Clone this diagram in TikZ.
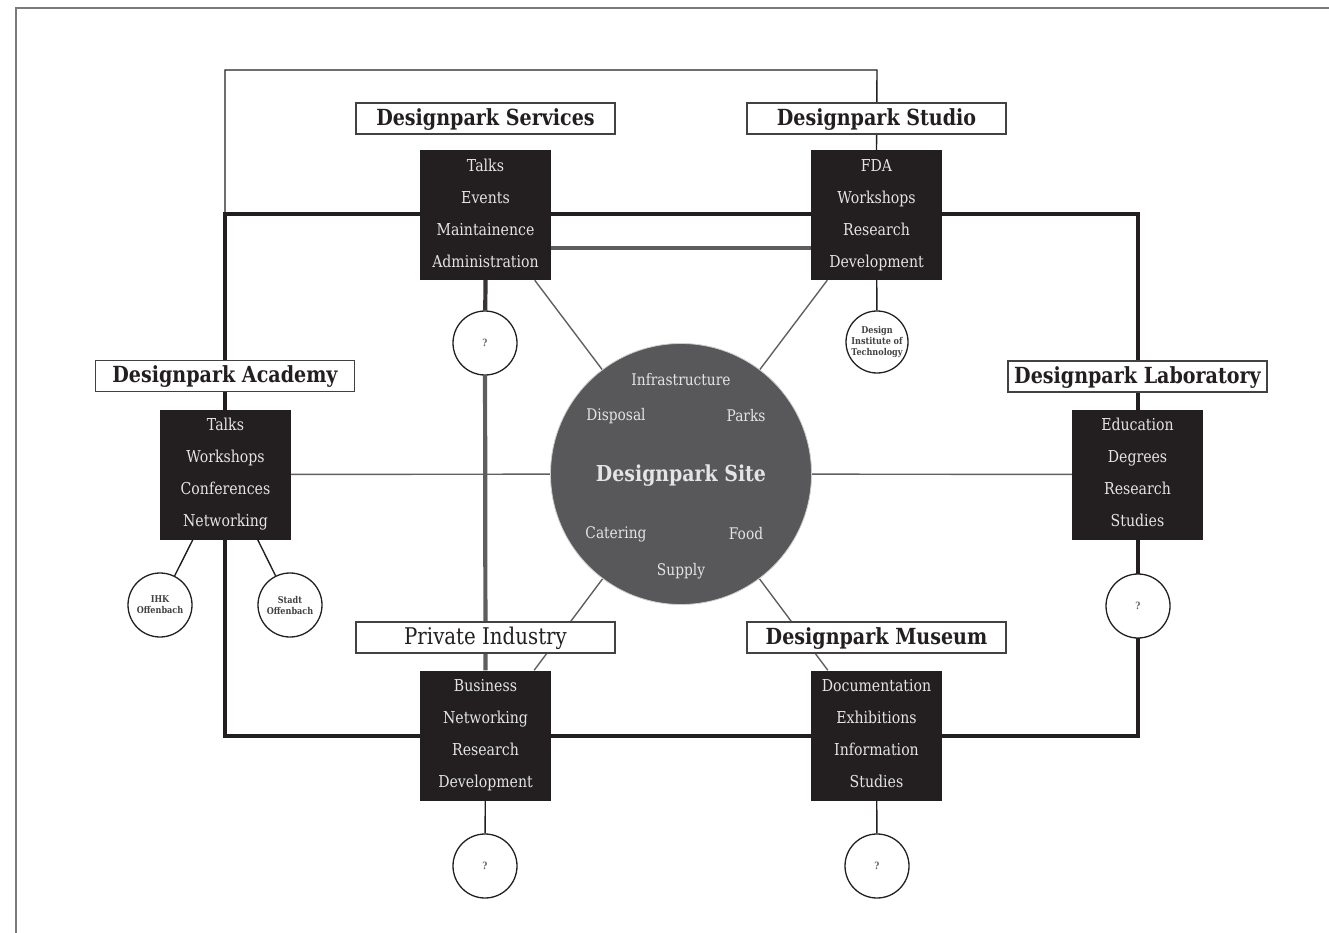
\documentclass[tikz,border=0pt]{standalone}
\usepackage{fontspec}
\setmainfont{DejaVu Serif}[FakeStretch=0.86]
\definecolor{ink}{HTML}{231F20}
\definecolor{sitegray}{HTML}{58585A}
\definecolor{midgray}{HTML}{5E5E5E}
\definecolor{thingray}{HTML}{606060}
\definecolor{txtlight}{HTML}{E4E4E4}
\definecolor{framegray}{HTML}{7A7A7A}
\newcommand{\fourlines}[4]{\vphantom{Ag}#1\\#2\\#3\\#4\vphantom{Ag}}
\pgfdeclarelayer{bg}
\pgfsetlayers{bg,main}
\begin{document}
\begin{tikzpicture}[x=1pt,y=-1pt,
  titlebox/.style={draw=ink!85, line width=1.3pt, fill=white, minimum width=259pt, minimum height=31pt, inner sep=0pt, text=ink, font=\fontsize{22.2}{25}\selectfont\bfseries, text depth=3pt},
  titleplain/.style={titlebox, font=\fontsize{23}{26}\selectfont},
  darkbox/.style={fill=ink, minimum width=131pt, minimum height=130pt, inner sep=0pt, text=txtlight, align=center, font=\fontsize{16.4}{32}\selectfont},
  smallcirc/.style={circle, draw=ink, line width=1.3pt, fill=white, minimum size=64pt, inner sep=0pt, align=center, text=ink!85, font=\fontsize{9.4}{11}\selectfont\bfseries},
  qcirc/.style={smallcirc, text=ink!70, font=\fontsize{10}{11}\selectfont\bfseries},
  sitetext/.style={text=txtlight, font=\fontsize{16}{18}\selectfont},
  thickline/.style={draw=ink, line width=4.2pt},
  thinline/.style={draw=thingray, line width=1.4pt},
  loopline/.style={draw=ink, line width=1.4pt},
  grayline/.style={draw=midgray, line width=4.2pt}
]
\useasboundingbox (0,0) rectangle (1329,933);
\draw[framegray, line width=1.3pt] (16,933) -- (16,8) -- (1329,8);

% central site
\node[circle, fill=sitegray, draw=white!70!sitegray, line width=0.8pt, minimum size=261pt, inner sep=0pt] (site) at (681,474) {};
\node[text=txtlight, font=\fontsize{22}{26}\selectfont\bfseries] (sitename) at (681,475.5) {Designpark Site};
\node[sitetext] (infra) at (681,379.5) {Infrastructure};
\node[sitetext] (disp) at (616,416) {Disposal};
\node[sitetext] (parks) at (746,416) {Parks};
\node[sitetext] (cater) at (616,534) {Catering};
\node[sitetext] (food) at (746,534) {Food};
\node[sitetext] (supply) at (681,571) {Supply};

% titles
\node[titlebox] (svtitle) at (485.5,118.5) {Designpark Services};
\node[titlebox] (sttitle) at (876.5,118.5) {Designpark Studio};
\node[titlebox] (actitle) at (225,376) {Designpark Academy};
\node[titlebox] (labtitle) at (1137.5,376.5) {Designpark Laboratory};
\node[titleplain] (pititle) at (485.5,637.5) {Private Industry};
\node[titlebox] (mutitle) at (876.5,637.5) {Designpark Museum};

% dark boxes
\node[darkbox] (svbox) at (485.5,215) {\fourlines{Talks}{Events}{Maintainence}{Administration}};
\node[darkbox] (stbox) at (876.5,215) {\fourlines{FDA}{Workshops}{Research}{Development}};
\node[darkbox] (acbox) at (225.5,474.5) {\fourlines{Talks}{Workshops}{Conferences}{Networking}};
\node[darkbox] (labbox) at (1137.5,474.5) {\fourlines{Education}{Degrees}{Research}{Studies}};
\node[darkbox] (pibox) at (485.5,735.5) {\fourlines{Business}{Networking}{Research}{Development}};
\node[darkbox] (mubox) at (876.5,735.5) {\fourlines{Documentation}{Exhibitions}{Information}{Studies}};

% small circles
\node[qcirc] (q1) at (485,343) {?};
\node[smallcirc, minimum size=62pt] (dit) at (877,342) {Design\\Institute of\\Technology};
\node[smallcirc] (ihk) at (160,605) {IHK\\Offenbach};
\node[smallcirc] (stadt) at (290,605) {Stadt\\Offenbach};
\node[qcirc] (q2) at (1138,606) {?};
\node[qcirc] (q3) at (485,866) {?};
\node[qcirc] (q4) at (877,866) {?};

% helper coordinates
\coordinate (tl) at (225,214);
\coordinate (tr) at (1138,214);
\coordinate (br) at (1138,736);
\coordinate (bl) at (225,736);
\coordinate (loopl) at (225,70);
\coordinate (loopr) at (877,70);

\begin{pgfonlayer}{bg}
  \draw[thickline] (tl) -- (tr) -- (br) -- (bl) -- cycle;
  \draw[loopline] (tl) -- (loopl) -- (loopr) -- (stbox.north);
  \draw[grayline] ([yshift=-33pt]svbox.east) -- ([yshift=-33pt]stbox.west);
  \draw[thickline, draw=ink!90] (svbox.south) -- (q1);
  \draw[grayline] (q1) -- (pibox.north);
  \draw[thinline] (site) -- (svbox);
  \draw[thinline] (site) -- (stbox);
  \draw[thinline] (site) -- (acbox);
  \draw[thinline] (site) -- (labbox);
  \draw[thinline] (site) -- (pibox);
  \draw[thinline] (site) -- (mubox);
  \draw[loopline] (stbox) -- (dit);
  \draw[loopline] (acbox) -- (ihk);
  \draw[loopline] (acbox) -- (stadt);
  \draw[loopline] (pibox) -- (q3);
  \draw[loopline] (mubox) -- (q4);
\end{pgfonlayer}
\end{tikzpicture}
\end{document}
